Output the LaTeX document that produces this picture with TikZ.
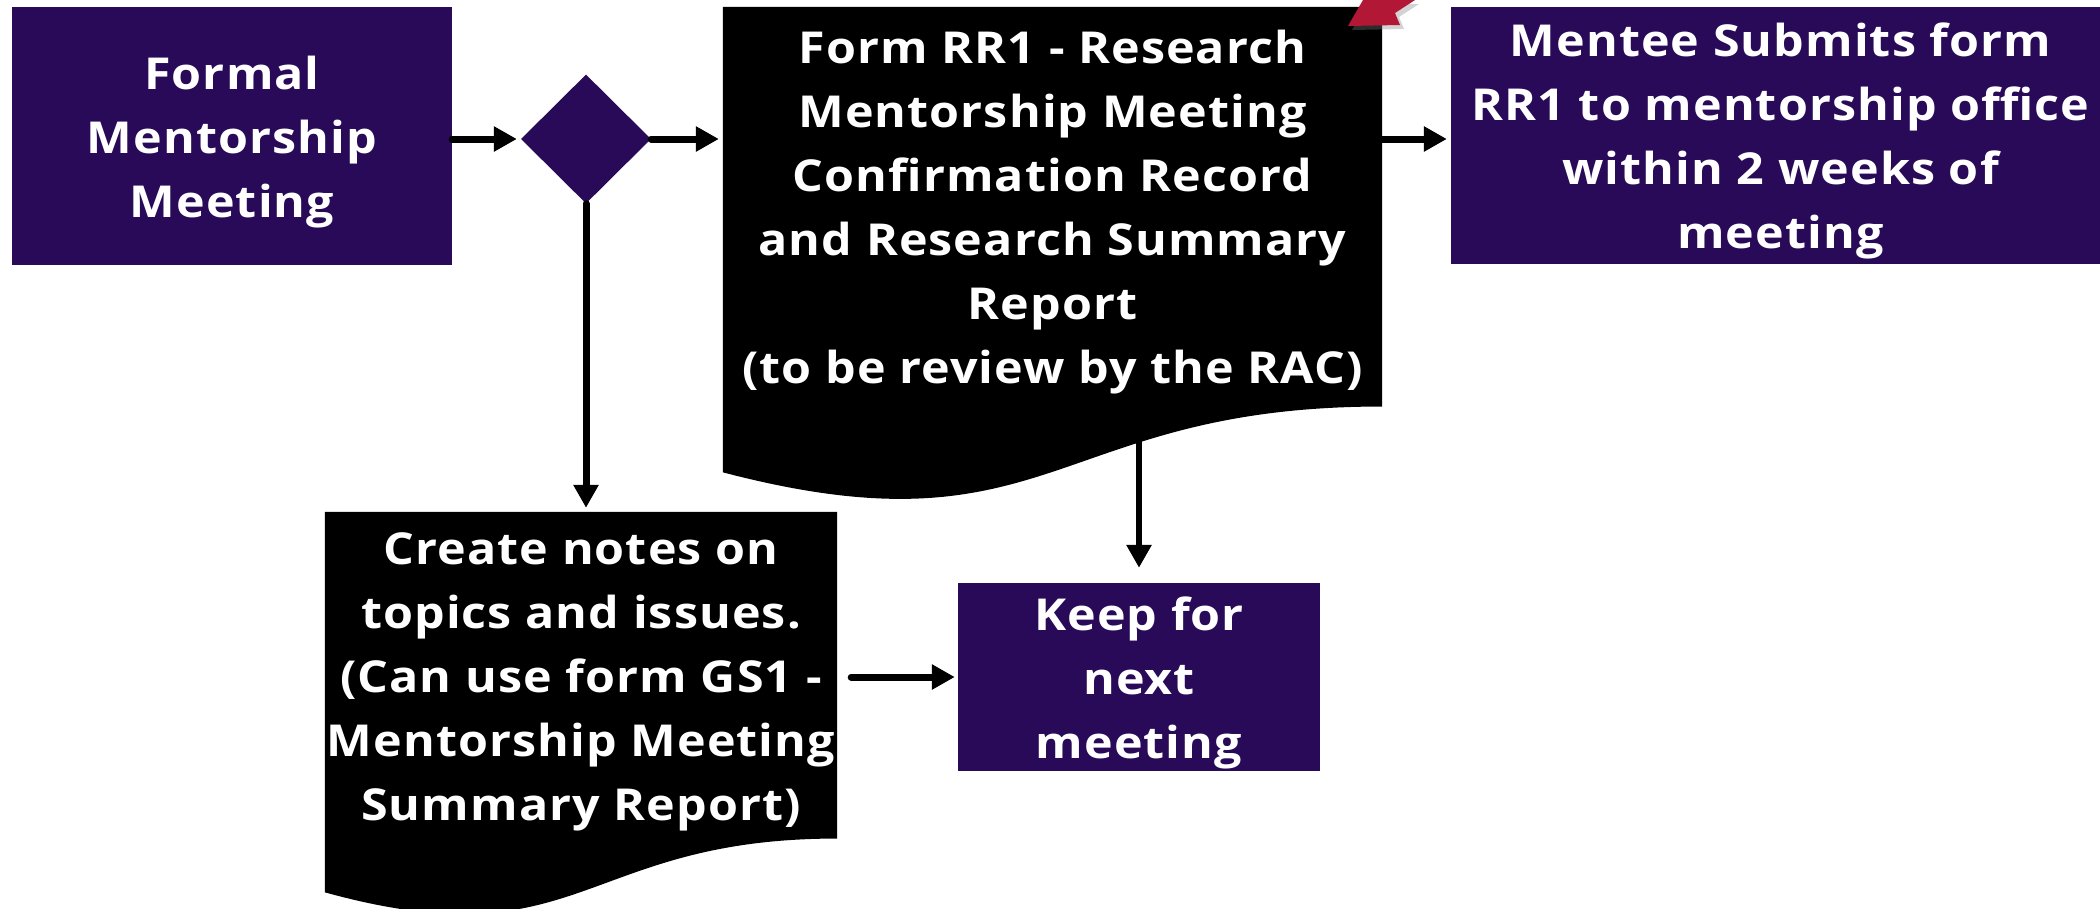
\documentclass[tikz,border=0pt]{standalone}
\usepackage{fontspec}
\setmainfont{Open Sans}[FakeStretch=1.1, LetterSpace=2.5]
\usetikzlibrary{shapes.geometric,arrows.meta,calc}
\definecolor{deeppurple}{RGB}{40,10,88}
\definecolor{crimson}{RGB}{178,24,54}
% flowchart "document" shape: flat top, wavy bottom
\newcommand\docshape[1]{%
  \fill[black] (#1.north west) -- (#1.north east)
    -- ($(#1.north east)!0.802!(#1.south east)$)
    .. controls ($(#1.north)!0.802!(#1.south)$) and ($(#1.north)!1.1075!(#1.south)$)
    .. ($(#1.north west)!0.934!(#1.south west)$) -- cycle;}
\begin{document}
\begin{tikzpicture}[x=1pt,y=-1pt,
  label font/.style={font=\bfseries\fontsize{44}{64}\selectfont},
  box/.style={rectangle, fill=deeppurple, inner sep=0pt},
  docarea/.style={rectangle, inner sep=0pt},
  textlines/.style={text=white, inner sep=0pt, align=center, label font}]
\tikzset{flow/.style={line width=7pt, line cap=round, -{Triangle[length=23pt,width=24pt]}, shorten >=4pt}}
\useasboundingbox (0,0) rectangle (2100,908);

% process boxes
\node[box, minimum width=440pt, minimum height=258pt] (formal) at (232,136) {};
\node[diamond, fill=deeppurple, minimum width=130pt, minimum height=129pt, inner sep=0pt] (dia) at (586,139) {};
\node[box, minimum width=659pt, minimum height=257pt] (mentee) at (1780.5,135.5) {};
\node[box, minimum width=362pt, minimum height=188pt] (keep) at (1139,677) {};

% documents
\node[docarea, minimum width=659pt, minimum height=498pt] (rr1) at (1052.5,256) {};
\docshape{rr1}
\node[docarea, minimum width=512pt, minimum height=407pt] (notes) at (581,715.5) {};
\docshape{notes}

% connectors
\draw[flow] (formal.east |- dia.west) -- (dia.west);
\draw[flow] (dia.east) -- (rr1.west |- dia.east);
\draw[flow] (rr1.east |- dia.east) -- (mentee.west |- dia.east);
\draw[flow] (dia.south) -- (dia.south |- notes.north);
\draw[flow, shorten <=14pt, shorten >=3pt] (notes.east |- keep.west) -- (keep.west);
\draw[flow, line width=6pt, shorten >=15pt] (rr1.center -| keep.north) -- (keep.north);

% texts
\node[textlines, yshift=-6pt] (formaltext) at (formal) {Formal\\Mentorship\\Meeting};
\node[textlines, yshift=-5pt] (menteetext) at (mentee) {Mentee Submits form\\RR1 to mentorship office\\within 2 weeks of\\meeting};
\node[textlines, yshift=-6pt] (keeptext) at (keep) {Keep for\\next\\meeting};
\node[textlines] (rr1text) at (1052.5,212) {Form RR1 - Research\\Mentorship Meeting\\Confirmation Record\\and Research Summary\\Report\\(to be review by the RAC)};
\node[textlines] (notestext) at (581,682) {Create notes on\\topics and issues.\\(Can use form GS1 -\\Mentorship Meeting\\Summary Report)};

% red pointer entering from the top edge
\fill[gray, opacity=0.35] (1367,4) -- (1352,30) -- (1404,29) -- (1399,17) -- (1419,4) -- cycle;
\fill[crimson] (1363,0) -- (1348,26) -- (1400,25) -- (1395,13) -- (1415,0) -- (1415,-20) -- (1363,-20) -- cycle;
\end{tikzpicture}
\end{document}
